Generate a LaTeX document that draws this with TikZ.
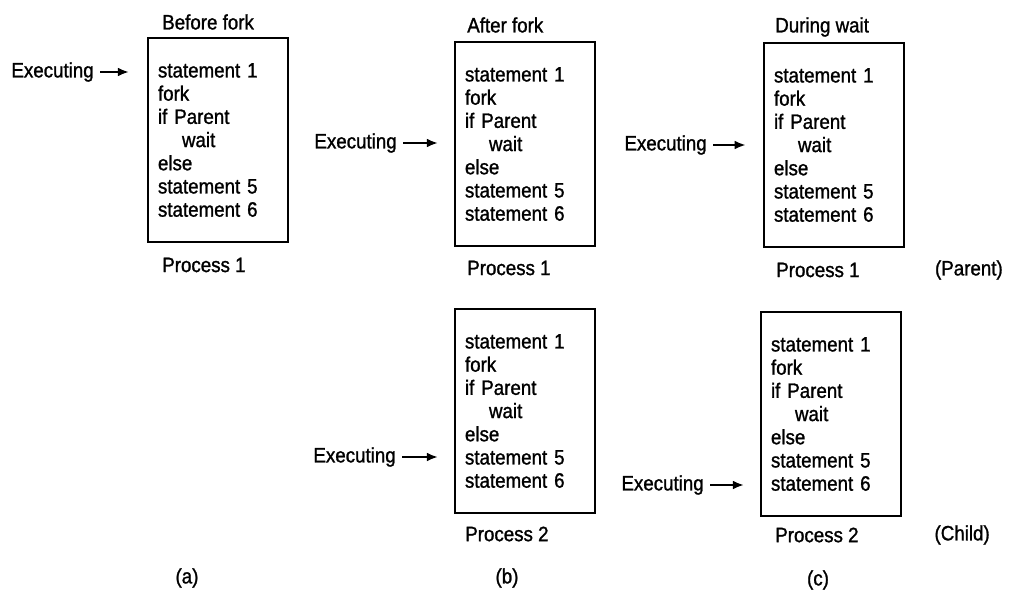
\documentclass[tikz,border=0pt]{standalone}
\usepackage{fontspec}
\setmainfont[FakeStretch=0.9,FakeBold=1.2]{Liberation Sans}
\usetikzlibrary{arrows.meta,positioning}
\newcommand{\forkcode}{statement 1\\fork\\if Parent\\\hspace*{6mm}wait\\else\\statement 5\\statement 6}
\tikzset{
  % process image: box with the program text inside
  proc/.style = {rectangle, draw, line width=1.3pt, minimum width=35mm, minimum height=51mm,
                 inner xsep=2.5mm, text width=30mm, align=left, font=\fontsize{14.8}{16.5}\selectfont},
  lbl/.style  = {font=\fontsize{14.8}{16.5}\selectfont, inner sep=0pt},
  arr/.style  = {-{Latex[length=2.8mm,width=2.2mm]}, line width=1.8pt, shorten <=1.6mm},
}
\begin{document}
\begin{tikzpicture}[x=0.025cm, y=-0.025cm]
\useasboundingbox (0,0) rectangle (1011,591);
% (a) before fork
\node[proc] (a1) at (218,140) {\forkcode};
\node[lbl, anchor=west] (ta) at (162,22) {Before fork};
\node[lbl, anchor=west] (pa1) at (162,265) {Process 1};
\node[lbl, anchor=east] (xa1) at (94,72) {Executing};
\draw[arr] (xa1.east) -- ([xshift=-4.5mm]a1.west |- xa1.east);
\node[lbl] (la) at (187,578) {(a)};
% (b) after fork
\node[proc] (b1) at (525,144) {\forkcode};
\node[proc] (b2) at (525,411) {\forkcode};
\node[lbl, anchor=west] (tb) at (467,25) {After fork};
\node[lbl, anchor=west] (pb1) at (467,268) {Process 1};
\node[lbl, anchor=west] (pb2) at (465,534) {Process 2};
\node[lbl, anchor=east] (xb1) at (397,143) {Executing};
\node[lbl, anchor=east] (xb2) at (396,457) {Executing};
\draw[arr] (xb1.east) -- ([xshift=-4mm]b1.west |- xb1.east);
\draw[arr] (xb2.east) -- ([xshift=-4mm]b2.west |- xb2.east);
\node[lbl] (lb) at (507,578) {(b)};
% (c) during wait
\node[proc] (c1) at (834,145) {\forkcode};
\node[proc] (c2) at (831,414) {\forkcode};
\node[lbl, anchor=west] (tc) at (775,27) {During wait};
\node[lbl, anchor=west] (pc1) at (776,270) {Process 1};
\node[lbl, anchor=west] (pc2) at (775,535) {Process 2};
\node[lbl, anchor=east] (par) at (1003,270) {(Parent)};
\node[lbl, anchor=east] (chd) at (990,535) {(Child)};
\node[lbl, anchor=east] (xc1) at (707,145) {Executing};
\node[lbl, anchor=east] (xc2) at (704,485) {Executing};
\draw[arr] (xc1.east) -- ([xshift=-4.3mm]c1.west |- xc1.east);
\draw[arr] (xc2.east) -- ([xshift=-4mm]c2.west |- xc2.east);
\node[lbl] (lc) at (818,580) {(c)};
\end{tikzpicture}
\end{document}
